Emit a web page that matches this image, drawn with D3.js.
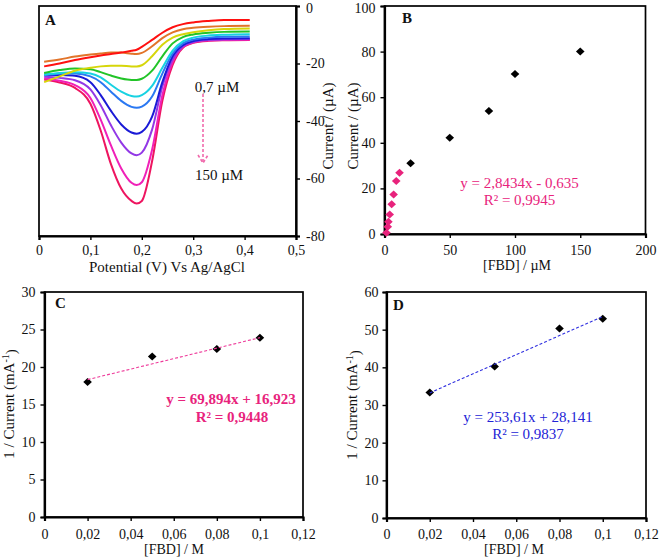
<!DOCTYPE html>
<html><head><meta charset="utf-8">
<script src="https://cdn.jsdelivr.net/npm/d3@7"></script>
<style>
body{margin:0;background:#fff;}
svg{display:block;}
text{font-family:"Liberation Serif","Times New Roman",serif;}
</style>
</head><body>
<svg id="chart" width="661" height="559"></svg>
<script>
// ---------- Panel A : voltammograms ----------
const potentialV = [0.01,0.04,0.07,0.10,0.12,0.14,0.16,0.18,0.19,0.20,0.22,0.24,0.26,0.28,0.30,0.33,0.36,0.41];
const cvRed     = [-21.0,-20.0,-18.8,-17.8,-17.2,-16.7,-16.2,-15.6,-15.2,-14.2,-11.8,-9.3,-7.4,-6.3,-5.7,-5.2,-4.9,-4.9];
const cvOrange  = [-19.4,-18.6,-17.6,-16.9,-16.5,-16.2,-16.2,-16.6,-16.7,-16.3,-14.0,-11.2,-9.2,-8.1,-7.6,-7.2,-7.0,-6.9];
const cvYellow  = [-26.5,-24.5,-22.5,-21.5,-21.0,-20.8,-20.8,-21.0,-21.0,-20.6,-17.5,-13.5,-11.0,-9.8,-9.1,-8.4,-8.0,-7.8];
const cvGreen   = [-23.3,-22.3,-21.7,-22.0,-23.0,-24.2,-25.2,-25.7,-25.7,-25.3,-22.5,-17.5,-13.0,-10.8,-9.9,-9.3,-9.0,-8.9];
const cvCyan    = [-23.9,-23.3,-23.0,-23.5,-24.8,-27.4,-29.8,-31.3,-31.5,-31.0,-27.8,-21.5,-15.5,-12.3,-11.0,-10.3,-10.0,-9.8];
const cvAzure   = [-23.9,-23.6,-23.5,-24.5,-26.5,-29.8,-33.0,-35.1,-35.4,-35.0,-31.5,-23.5,-16.5,-13.0,-11.7,-11.0,-10.7,-10.6];
const cvBlue    = [-23.9,-24.0,-24.3,-26.5,-31.0,-36.5,-41.2,-44.0,-44.4,-43.8,-38.5,-26.5,-17.5,-13.6,-12.2,-11.5,-11.3,-11.2];
const cvPurple  = [-24.6,-25.0,-25.8,-29.0,-34.5,-41.5,-47.5,-51.3,-51.9,-51.0,-43.0,-28.0,-18.5,-14.0,-12.5,-11.8,-11.6,-11.5];
const cvMagenta = [-25.2,-26.0,-27.5,-32.0,-39.5,-48.5,-56.5,-61.5,-62.3,-61.3,-50.0,-31.0,-19.5,-14.3,-12.7,-12.0,-11.8,-11.7];
const cvCrimson = [-25.6,-26.6,-28.5,-34.0,-43.3,-55.0,-63.5,-67.8,-68.7,-67.8,-54.0,-33.0,-20.5,-14.5,-12.8,-12.1,-11.9,-11.8];
const cvSeries  = [cvCrimson,cvMagenta,cvPurple,cvBlue,cvAzure,cvCyan,cvGreen,cvYellow,cvOrange,cvRed];
const cvColors  = ["#ee1560","#f020b8","#9238e6","#1a1ad6","#2a78f2","#18d2e2","#22c428","#d6d60a","#e2742a","#ff1010"];
const aTicksX = [0,0.1,0.2,0.3,0.4,0.5];
const aTicksY = [0,-20,-40,-60,-80];

// ---------- Panel B : calibration ----------
const fbdLow   = [1.5,2.5,3,4,5.5,7,9,11.5];
const curLow   = [0.6,3.2,5.4,8.6,13.1,17.3,23.3,26.9];
const fbdHigh  = [20,50,80,100,150];
const curHigh  = [31,42.2,54,70.2,80];
const bTicksX = [0,50,100,150,200];
const bTicksY = [0,20,40,60,80,100];

// ---------- Panel C ----------
const concC = [0.02,0.05,0.08,0.1];
const invCurC = [18.0,21.4,22.4,23.9];
const fitC = {slope:69.894, intercept:16.923};
const cTicksX = [0,0.02,0.04,0.06,0.08,0.1,0.12];
const cTicksY = [0,5,10,15,20,25,30];

// ---------- Panel D ----------
const concD = [0.02,0.05,0.08,0.1];
const invCurD = [33.3,40.2,50.3,52.9];
const fitD = {slope:253.61, intercept:28.141};
const dTicksX = [0,0.02,0.04,0.06,0.08,0.1,0.12];
const dTicksY = [0,10,20,30,40,50,60];

const fmt = d => String(d).replace(".", ",");
const svg = d3.select("#chart");
const PINK = "#e8237c", BLUE = "#2323d6";

function diamond(g, xs, ys, x, y, color, rx, ry){
  g.selectAll(null).data(xs.map((v,i)=>[v,ys[i]])).join("path")
    .attr("d", `M0,${-ry}L${rx},0L0,${ry}L${-rx},0Z`)
    .attr("transform", d=>`translate(${x(d[0])},${y(d[1])})`)
    .attr("fill", color);
}
function frame(x, y){
  const [x0,x1] = x.range(), [y0,y1] = y.range();
  svg.append("rect").attr("x",x0).attr("y",y1).attr("width",x1-x0).attr("height",y0-y1)
    .attr("fill","none").attr("stroke","#000").attr("stroke-width",1.7);
}
function styleAxis(g, fs){
  g.selectAll("text").style("font-size", fs+"px").style("font-family",'"Liberation Serif",serif').style("fill","#111");
  g.selectAll("line").attr("stroke","#000").attr("stroke-width",1.4);
  g.select(".domain").attr("stroke","#000").attr("stroke-width",2.2);
}
function rotLabel(x, y, parts, size){
  const t = svg.append("text").attr("transform",`translate(${x},${y}) rotate(-90)`)
    .attr("text-anchor","middle").attr("dy","0.35em").style("font-size",(size||15)+"px").style("fill","#111");
  parts.forEach(p => {
    const s = t.append("tspan").text(p.t);
    if (p.sup) s.attr("dy","-0.45em").style("font-size","10px");
    if (p.after) s.attr("dy","0.45em");
  });
  return t;
}
function label(x, y, str, opts={}){
  return svg.append("text").attr("x",x).attr("y",y).attr("text-anchor",opts.anchor||"middle")
    .style("font-size",(opts.size||14)+"px").style("font-weight",opts.bold?"bold":"normal")
    .style("fill",opts.color||"#111").text(str);
}

// ===== Panel A =====
{
  const x = d3.scaleLinear([0,0.5],[39,296]);
  const y = d3.scaleLinear([-80,0],[236,6]);
  frame(x,y);
  const line = d3.line().x((d,i)=>x(potentialV[i])).y(d=>y(d)).curve(d3.curveMonotoneX);
  svg.append("g").selectAll("path").data(cvSeries).join("path")
    .attr("d", d=>line(d)).attr("fill","none")
    .attr("stroke",(d,i)=>cvColors[i]).attr("stroke-width",2);
  const gx = svg.append("g").attr("transform",`translate(0,${y(-80)})`)
    .call(d3.axisBottom(x).tickValues(aTicksX).tickFormat(fmt).tickSizeOuter(0).tickSize(4).tickPadding(5));
  styleAxis(gx,14);
  const gy = svg.append("g").attr("transform",`translate(${x(0.5)},0)`)
    .call(d3.axisRight(y).tickValues(aTicksY).tickFormat(fmt).tickSizeOuter(0).tickSize(4).tickPadding(6));
  styleAxis(gy,14);
  gy.selectAll(".tick text").filter(d=>d===0).attr("dy","0.45em");
  label(167, 272, "Potential (V) Vs Ag/AgCl", {size:15});
  rotLabel(328, 126, [{t:"Current / (µA)"}]);
  label(45, 25, "A", {anchor:"start", bold:true, size:15});
  label(217, 91.5, "0,7 µM", {size:15});
  label(219, 180, "150 µM", {size:15});
  const ar = svg.append("g").attr("stroke","#f06aac").attr("stroke-width",1.6)
    .attr("stroke-dasharray","3,2").attr("fill","none");
  ar.append("line").attr("x1",203).attr("y1",94).attr("x2",203).attr("y2",162);
  ar.append("path").attr("d","M198,155L203,163L208,155");
}

// ===== Panel B =====
{
  const x = d3.scaleLinear([0,200],[384.5,645.5]);
  const y = d3.scaleLinear([0,100],[234,6]);
  frame(x,y);
  const gx = svg.append("g").attr("transform",`translate(0,${y(0)})`)
    .call(d3.axisBottom(x).tickValues(bTicksX).tickFormat(fmt).tickSizeOuter(0).tickSize(4).tickPadding(7));
  styleAxis(gx,14);
  const gy = svg.append("g").attr("transform",`translate(${x(0)},0)`)
    .call(d3.axisLeft(y).tickValues(bTicksY).tickFormat(fmt).tickSizeOuter(0).tickSize(4).tickPadding(5));
  styleAxis(gy,14);
  gy.selectAll(".tick text").filter(d=>d===100).attr("dy","0.45em");
  diamond(svg.append("g"), fbdHigh, curHigh, x, y, "#000", 4.3, 4);
  diamond(svg.append("g"), fbdLow, curLow, x, y, PINK, 4.3, 4);
  label(517, 270, "[FBD] / µM");
  rotLabel(352.5, 126, [{t:"Current / (µA)"}]);
  label(402, 23, "B", {anchor:"start", bold:true, size:15});
  label(519.5, 188, "y = 2,8434x - 0,635", {size:15, color:PINK});
  label(519.5, 204.5, "R² = 0,9945", {size:15, color:PINK});
}

// ===== Panel C =====
{
  const x = d3.scaleLinear([0,0.12],[44.5,303]);
  const y = d3.scaleLinear([0,30],[517,292]);
  frame(x,y);
  const gx = svg.append("g").attr("transform",`translate(0,${y(0)})`)
    .call(d3.axisBottom(x).tickValues(cTicksX).tickFormat(fmt).tickSizeOuter(0).tickSize(4).tickPadding(8));
  styleAxis(gx,14);
  const gy = svg.append("g").attr("transform",`translate(${x(0)},0)`)
    .call(d3.axisLeft(y).tickValues(cTicksY).tickFormat(fmt).tickSizeOuter(0).tickSize(4).tickPadding(5));
  styleAxis(gy,14);
  diamond(svg.append("g"), concC, invCurC, x, y, "#000", 4.3, 4);
  const xs = [concC[0], concC[concC.length-1]];
  svg.append("line").attr("x1",x(xs[0])).attr("y1",y(fitC.slope*xs[0]+fitC.intercept))
    .attr("x2",x(xs[1])).attr("y2",y(fitC.slope*xs[1]+fitC.intercept))
    .attr("stroke","#ee3a9a").attr("stroke-width",1.1).attr("stroke-dasharray","3,2");
  label(174, 554, "[FBD]  / M");
  rotLabel(8.5, 404, [{t:"1 / Current (mA"},{t:"-1",sup:true},{t:")",after:true}]);
  label(55, 308, "C", {anchor:"start", bold:true, size:15});
  label(231, 404, "y = 69,894x + 16,923", {size:15, color:PINK, bold:true});
  label(232, 421.5, "R² = 0,9448", {size:15, color:PINK, bold:true});
}

// ===== Panel D =====
{
  const x = d3.scaleLinear([0,0.12],[386.5,646]);
  const y = d3.scaleLinear([0,60],[518,292]);
  frame(x,y);
  const gx = svg.append("g").attr("transform",`translate(0,${y(0)})`)
    .call(d3.axisBottom(x).tickValues(dTicksX).tickFormat(fmt).tickSizeOuter(0).tickSize(4).tickPadding(7));
  styleAxis(gx,14);
  const gy = svg.append("g").attr("transform",`translate(${x(0)},0)`)
    .call(d3.axisLeft(y).tickValues(dTicksY).tickFormat(fmt).tickSizeOuter(0).tickSize(4).tickPadding(4));
  styleAxis(gy,14);
  diamond(svg.append("g"), concD, invCurD, x, y, "#000", 4.3, 4);
  const xs = [concD[0], concD[concD.length-1]];
  svg.append("line").attr("x1",x(xs[0])).attr("y1",y(fitD.slope*xs[0]+fitD.intercept))
    .attr("x2",x(xs[1])).attr("y2",y(fitD.slope*xs[1]+fitD.intercept))
    .attr("stroke","#3030e0").attr("stroke-width",1.1).attr("stroke-dasharray","3,2");
  label(514, 554, "[FBD]  / M");
  rotLabel(352, 405, [{t:"1 / Current (mA"},{t:"-1",sup:true},{t:")",after:true}]);
  label(393, 310, "D", {anchor:"start", bold:true, size:15});
  label(528, 421.5, "y = 253,61x + 28,141", {size:15, color:BLUE});
  label(528, 439, "R² = 0,9837", {size:15, color:BLUE});
}
</script>
</body></html>
